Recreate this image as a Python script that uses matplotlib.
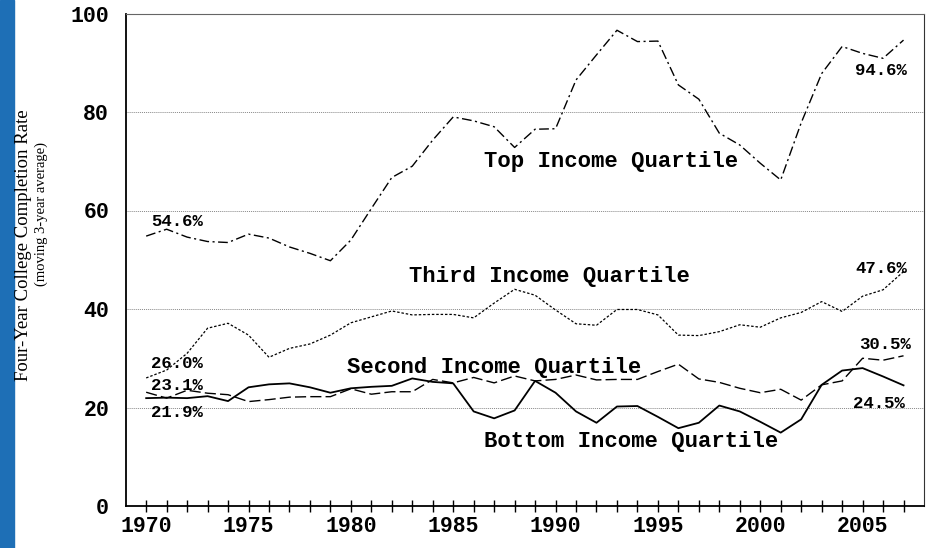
import matplotlib
matplotlib.use("Agg")
import matplotlib.pyplot as plt
from matplotlib.patches import Rectangle

# ────────────────────────────────────────────────
# Data (3-year moving averages)
# ────────────────────────────────────────────────

years = list(range(1970, 2008))

top_q = [54.8, 56.2, 54.6, 53.7, 53.5, 55.2, 54.4, 52.6, 51.3, 49.8,
         54.0, 60.4, 66.7, 69.0, 74.3, 79.0, 78.2, 77.0, 72.8, 76.5,
         76.6, 86.5, 91.6, 96.6, 94.3, 94.4, 85.5, 82.6, 75.7, 73.3,
         69.6, 66.2, 77.8, 87.8, 93.3, 91.9, 90.9, 94.6]

third_q = [26.0, 27.6, 31.0, 36.1, 37.1, 34.7, 30.2, 32.0, 32.9, 34.7,
           37.2, 38.4, 39.6, 38.8, 38.9, 38.9, 38.2, 41.2, 44.0, 42.8,
           39.8, 37.0, 36.7, 39.9, 39.9, 38.8, 34.7, 34.6, 35.4, 36.8,
           36.3, 38.2, 39.3, 41.5, 39.5, 42.6, 43.9, 47.6]

second_q = [23.1, 21.9, 23.5, 22.9, 22.6, 21.2, 21.6, 22.1, 22.2, 22.2,
            23.8, 22.7, 23.2, 23.2, 25.7, 25.0, 26.1, 25.0, 26.4, 25.4,
            25.7, 26.6, 25.6, 25.7, 25.7, 27.3, 28.8, 25.8, 25.1, 23.9,
            23.0, 23.7, 21.5, 24.6, 25.4, 30.0, 29.6, 30.5]

bottom_q = [21.9, 22.0, 21.9, 22.3, 21.3, 24.1, 24.7, 24.9, 24.1, 23.0,
            23.9, 24.2, 24.4, 25.9, 25.2, 24.9, 19.2, 17.8, 19.4, 25.4,
            23.0, 19.2, 16.9, 20.2, 20.3, 18.1, 15.8, 16.9, 20.4, 19.2,
            17.1, 14.9, 17.6, 24.6, 27.5, 28.0, 26.3, 24.5]

# ────────────────────────────────────────────────
# Plotting
# ────────────────────────────────────────────────

mono = "Liberation Mono"
serif = "Liberation Serif"

fig = plt.figure(figsize=(9.34, 5.48), dpi=100)
fig.patches.append(Rectangle((0, 0), 14 / 934, 1, transform=fig.transFigure,
                             color="#1e6fb6", zorder=0))

ax = fig.add_axes([125.7 / 934, 42 / 548, (924 - 125.7) / 934, (506 - 13.5) / 548])

ax.plot(years, top_q, color="black", lw=1.0, dashes=(7, 2.5, 1.5, 2.5))
ax.plot(years, third_q, color="black", lw=0.9, dashes=(2, 1.5))
ax.plot(years, second_q, color="black", lw=1.0, dashes=(8, 3))
ax.plot(years, bottom_q, color="black", lw=1.3)

ax.set_xlim(1969, 2008)
ax.set_ylim(0, 100)
ax.set_xticks(range(1970, 2008))
ax.set_xticklabels([str(y) if y % 5 == 0 else "" for y in years])
ax.set_yticks([0, 20, 40, 60, 80, 100])

ax.grid(axis="y", color="#888888", linestyle=(0, (1, 1)), lw=0.7)
ax.tick_params(axis="x", direction="inout", length=8, width=1, pad=3)
ax.tick_params(axis="y", length=0, pad=12)
for lbl in ax.get_xticklabels() + ax.get_yticklabels():
    lbl.set_fontfamily(mono)
    lbl.set_fontweight("bold")
    lbl.set_fontsize(15.5)

ax.spines["left"].set_linewidth(1.3)
ax.spines["bottom"].set_linewidth(1.3)
ax.spines["top"].set_color("#666666")
ax.spines["right"].set_color("#333333")

fig.text(24 / 934, 1 - 245 / 548, "Four-Year College Completion Rate",
         rotation=90, ha="center", va="center", family=serif, fontsize=13.5)
fig.text(41 / 934, 1 - 214 / 548, "(moving 3-year average)",
         rotation=90, ha="center", va="center", family=serif, fontsize=10.5)

big = dict(family=mono, fontweight="bold", fontsize=16, ha="center", va="center")
small = dict(family=mono, fontweight="bold", fontsize=12.5, ha="center", va="center")

ax.text(1992.7, 70.0, "Top Income Quartile", **big)
ax.text(1989.7, 46.5, "Third Income Quartile", **big)
ax.text(1987.0, 28.2, "Second Income Quartile", **big)
ax.text(1993.7, 13.1, "Bottom Income Quartile", **big)

ax.text(1971.5, 57.7, "54.6%", **small)
ax.text(2005.9, 88.5, "94.6%", **small)
ax.text(1971.5, 29.0, "26.0%", **small)
ax.text(2005.9, 48.3, "47.6%", **small)
ax.text(1971.5, 24.4, "23.1%", **small)
ax.text(2006.1, 32.7, "30.5%", **small)
ax.text(1971.5, 18.9, "21.9%", **small)
ax.text(2005.8, 20.9, "24.5%", **small)

fig.savefig("out.png", dpi=100)
